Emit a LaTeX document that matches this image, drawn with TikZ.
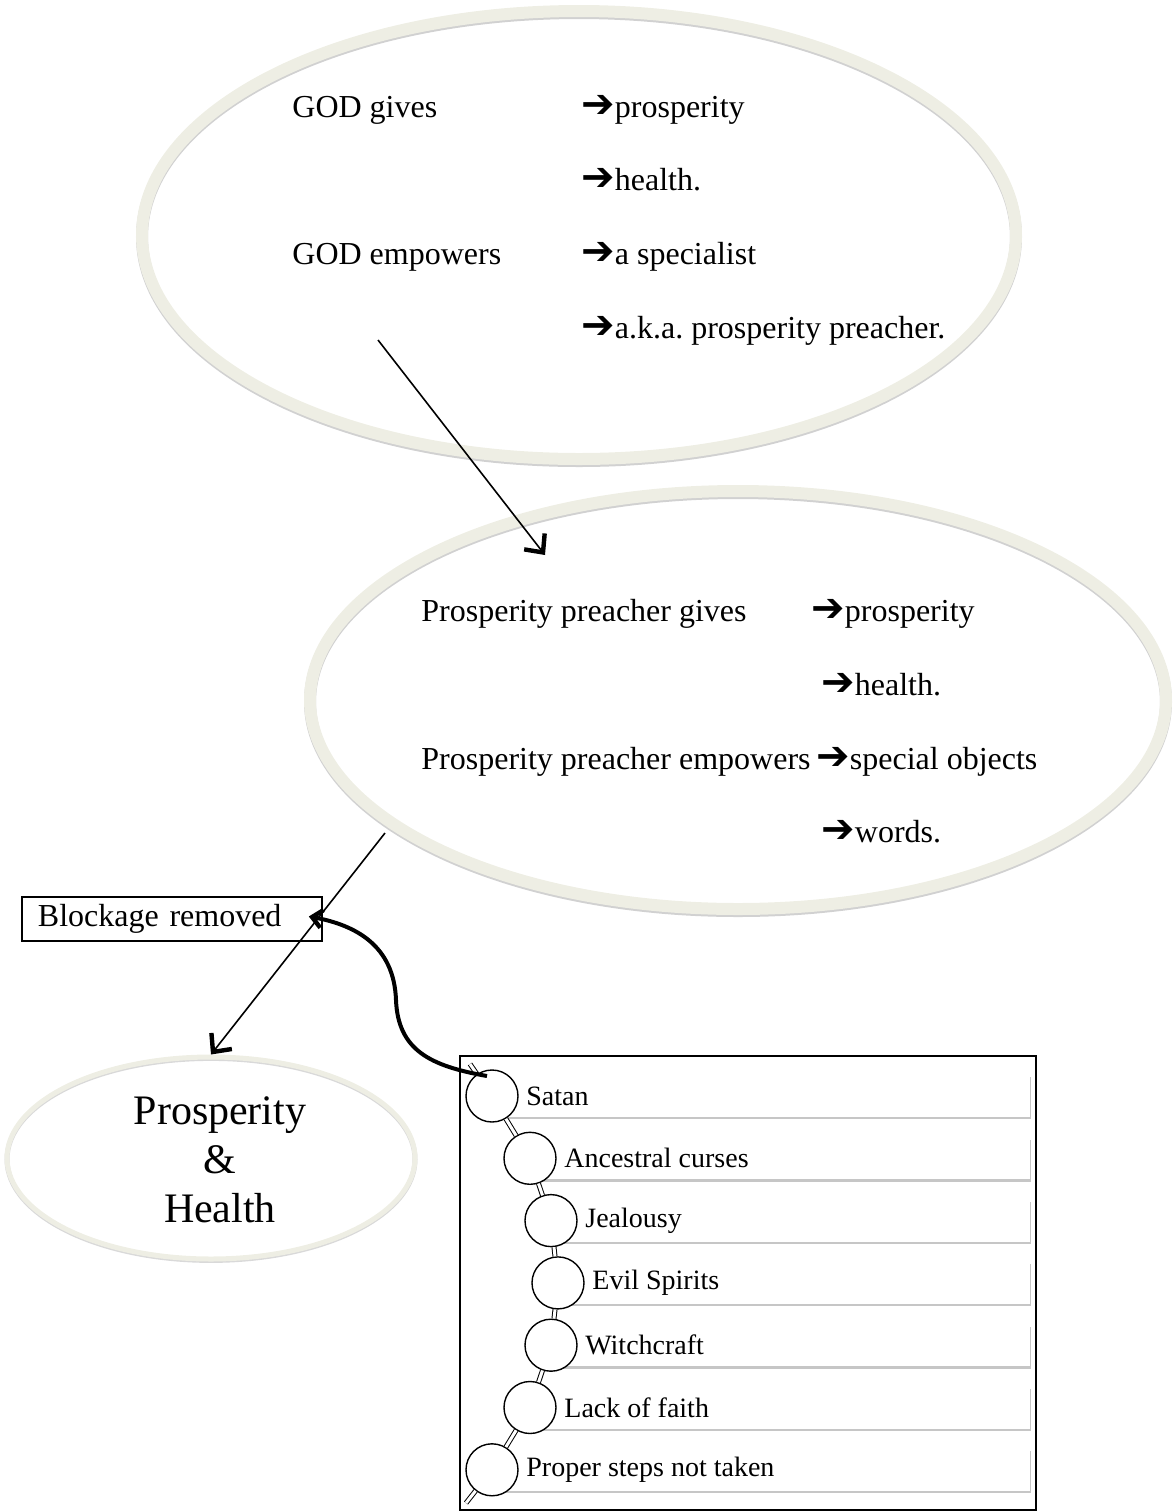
\documentclass[tikz,border=0pt]{standalone}
\usepackage{fontspec}
\setmainfont{Liberation Serif}
\newfontfamily\arrowfont{DejaVu Sans}
\usetikzlibrary{shapes.geometric,arrows.meta,shadows}

\definecolor{ringbeige}{HTML}{EEEEE4}
\newcommand{\ra}{{\arrowfont\bfseries\fontsize{20}{19}\selectfont\char"2794}}

\tikzset{
  ring/.style={ellipse, draw=ringbeige, line width=6pt, inner sep=0pt,
    preaction={draw=black!18, line width=6pt, transform canvas={yshift=-1pt}}},
  thinring/.style={ellipse, draw=ringbeige, line width=2.5pt, inner sep=0pt,
    preaction={draw=black!15, line width=2.5pt, transform canvas={yshift=-0.7pt}}},
  said/.style={anchor=base west, inner sep=0pt, font=\fontsize{16}{19}\selectfont},
  flow/.style={line width=0.8pt, -{Straight Barb[length=7pt,width=13pt,line width=2.2pt]}},
  curvy/.style={line width=2pt, -{Straight Barb[length=5pt,width=9pt,line width=2.2pt]}},
  bead/.style={ellipse, draw, fill=white, line width=0.7pt, minimum width=26pt, minimum height=26pt},
  cause/.style={anchor=west, inner sep=0pt, font=\fontsize{14}{16}\selectfont},
  link/.style={draw, line width=0.5pt, double=white, double distance=1.5pt},
  bar/.style={fill=white, drop shadow={shadow xshift=0.6pt, shadow yshift=-1.2pt, opacity=0.45}}
}

\begin{document}
\frenchspacing
\begin{tikzpicture}[x=0.5pt, y=-0.5pt]
\useasboundingbox (0,0) rectangle (1176,1512);

% top ellipse
\node [ring, minimum width=437pt, minimum height=224pt] (god) at (579,235) {};
\node [said] (g1) at (292,117) {GOD gives};
\node [said] (g2) at (581,117) {\ra prosperity};
\node [said] (g3) at (581,190) {\ra health.};
\node [said] (g4) at (292,264) {GOD empowers};
\node [said] (g5) at (581,264) {\ra a specialist};
\node [said] (g6) at (581,338) {\ra a.k.a. prosperity preacher.};

% middle ellipse
\node [ring, minimum width=428pt, minimum height=209pt] (preacher) at (738,700) {};
\node [said] (p1) at (421,621) {Prosperity preacher gives};
\node [said] (p2) at (811,621) {\ra prosperity};
\node [said] (p3) at (821,695) {\ra health.};
\node [said] (p4) at (421,769) {Prosperity preacher empowers};
\node [said] (p5) at (816,769) {\ra special objects};
\node [said] (p6) at (821,842) {\ra words.};

% result
\node [thinring, minimum width=204pt, minimum height=101pt] (ph) at (211,1158) {};
\node [align=center, font=\fontsize{21}{24.5}\selectfont] (phtext) at (220,1160) {Prosperity\\\&\\Health};

\node [draw, line width=0.6pt, minimum width=150pt, minimum height=22pt,
       text width=134pt, inner xsep=8pt, inner ysep=2pt, align=left, font=\fontsize{16}{19}\selectfont]
       (block) at (172,919) {Blockage removed};

\coordinate (gstart) at (378,340);
\coordinate (gend) at (545,555);
\coordinate (pstart) at (385,833);
\draw [flow] (gstart) -- (gend);
\draw [flow] (pstart) -- (ph.north);

% blockages
\draw [line width=0.7pt] (460,1056) rectangle (1036,1510);
\foreach \i/\cx/\txt in {1/492/Satan, 2/530/Ancestral curses, 3/551/Jealousy,
    4/558/Evil Spirits, 5/551/Witchcraft, 6/530/Lack of faith, 7/492/Proper steps not taken} {
  \pgfmathsetmacro{\cy}{1096+62.3*(\i-1)}
  \path [bar] (\cx,\cy-21) rectangle (1030,\cy+21);
}
\foreach \i/\cx/\txt in {1/492/Satan, 2/530/Ancestral curses, 3/551/Jealousy,
    4/558/Evil Spirits, 5/551/Witchcraft, 6/530/Lack of faith, 7/492/Proper steps not taken} {
  \pgfmathsetmacro{\cy}{1096+62.3*(\i-1)}
  \node [bead] (c\i) at (\cx,\cy) {};
  \node [cause] (t\i) at (\cx+34,\cy) {\txt};
}
\coordinate (tailtop) at (470,1064);
\coordinate (tailbot) at (466,1503);
\draw [link] (tailtop) -- (c1);
\foreach \i [evaluate=\i as \j using int(\i+1)] in {1,...,6}
  \draw [link] (c\i) -- (c\j);
\draw [link] (c7) -- (tailbot);

\coordinate (bend) at (396,1000);
\draw [curvy, shorten >=-7pt] (487,1076) .. controls (430,1066) and (398,1050) .. (bend)
  .. controls (394,945) and (355,925) .. (block.east);
\end{tikzpicture}
\end{document}
